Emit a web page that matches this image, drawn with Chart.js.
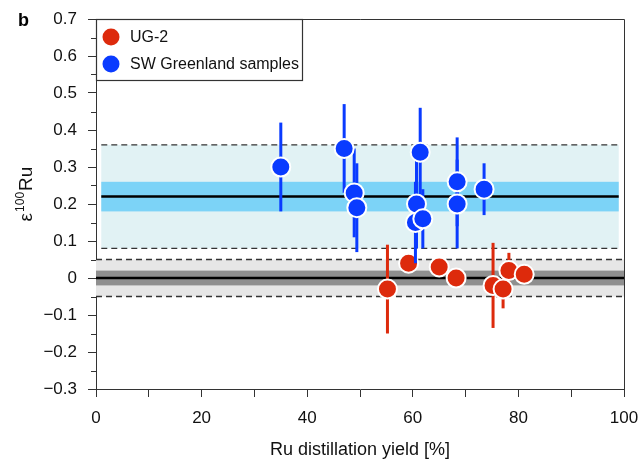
<!DOCTYPE html>
<html><head><meta charset="utf-8">
<script src="https://cdn.jsdelivr.net/npm/chart.js@4.4.0/dist/chart.umd.min.js"></script>
<style>html,body{margin:0;padding:0;background:#fff}</style>
</head><body>
<canvas id="c" width="639" height="467"></canvas>
<script>
// ---- data ----
const seriesNames = ['UG-2', 'SW Greenland samples'];
const ugYield = [55.2, 59.2, 65.0, 68.2, 75.2, 77.1, 78.2, 81.1];
const ugEps   = [-0.03, 0.04, 0.03, 0.00, -0.02, -0.03, 0.02, 0.01];
const ugErr   = [0.12, 0.02, 0.02, 0.02, 0.115, 0.052, 0.048, 0.02];
const sgYield = [35.0, 47.0, 48.9, 49.4, 61.4, 60.7, 60.5, 61.9, 68.4, 68.4, 73.5];
const sgEps   = [0.30, 0.35, 0.23, 0.19, 0.34, 0.20, 0.15, 0.16, 0.26, 0.20, 0.24];
const sgErr   = [0.12, 0.12, 0.12, 0.12, 0.12, 0.12, 0.11, 0.08, 0.12, 0.12, 0.07];
// reference bands: [mean, innerLow, innerHigh, outerLow, outerHigh, xFrom, xTo]
const ugBand = [0.00, -0.02, 0.02, -0.05, 0.05, 0, 100];
const sgBand = [0.22, 0.18, 0.26, 0.08, 0.36, 1, 99];
const xTicks = [0, 20, 40, 60, 80, 100];
const yTicks = [-0.3, -0.2, -0.1, 0, 0.1, 0.2, 0.3, 0.4, 0.5, 0.6, 0.7];
const panelLetter = 'b';
const xTitle = 'Ru distillation yield [%]';

const RED = '#dd2a0c', BLUE = '#0a3bff';
const FONT = '"Liberation Sans", Arial, Helvetica, sans-serif';
const AXC = '#333';

function fmtY(v) {
  const r = Math.round(v * 10) / 10;
  if (r === 0) return '0';
  return (r < 0 ? '\u2212' : '') + Math.abs(r).toFixed(1);
}

const errs = [ugErr, sgErr];

const decor = {
  id: 'decor',
  beforeDatasetsDraw(chart) {
    const { ctx, chartArea: a, scales: { x, y } } = chart;
    ctx.save();
    ctx.beginPath(); ctx.rect(a.left, a.top, a.right - a.left, a.bottom - a.top); ctx.clip();
    const drawBand = (b, light, mid) => {
      const x0 = x.getPixelForValue(b[5]), x1 = x.getPixelForValue(b[6]);
      ctx.fillStyle = light;
      ctx.fillRect(x0, y.getPixelForValue(b[4]), x1 - x0, y.getPixelForValue(b[3]) - y.getPixelForValue(b[4]));
      ctx.fillStyle = mid;
      ctx.fillRect(x0, y.getPixelForValue(b[2]), x1 - x0, y.getPixelForValue(b[1]) - y.getPixelForValue(b[2]));
      ctx.strokeStyle = '#333'; ctx.lineWidth = 1.3; ctx.setLineDash([6, 4]);
      [b[3], b[4]].forEach(v => { const py = y.getPixelForValue(v); ctx.beginPath(); ctx.moveTo(x0, py); ctx.lineTo(x1, py); ctx.stroke(); });
      ctx.setLineDash([]); ctx.strokeStyle = '#000'; ctx.lineWidth = 2.5;
      const pm = y.getPixelForValue(b[0]); ctx.beginPath(); ctx.moveTo(x0, pm); ctx.lineTo(x1, pm); ctx.stroke();
    };
    drawBand(sgBand, '#e1f2f4', '#7cd3f7');
    drawBand(ugBand, '#e6e6e6', '#8f8f8f');
    ctx.restore();
  },
  beforeDatasetDraw(chart, args) {
    const { ctx, scales: { x, y } } = chart;
    const ds = chart.data.datasets[args.index];
    const e = errs[args.index];
    ctx.save();
    ctx.strokeStyle = ds.backgroundColor; ctx.lineWidth = 3;
    ds.data.forEach((p, i) => {
      const px = x.getPixelForValue(p.x);
      ctx.beginPath();
      ctx.moveTo(px, y.getPixelForValue(p.y - e[i]));
      ctx.lineTo(px, y.getPixelForValue(p.y + e[i]));
      ctx.stroke();
    });
    ctx.restore();
  },
  afterDraw(chart) {
    const { ctx, chartArea: a, scales: { y } } = chart;
    ctx.save();
    // frame top/right
    ctx.strokeStyle = AXC; ctx.lineWidth = 1;
    ctx.beginPath();
    ctx.moveTo(a.left, a.top + 0.5); ctx.lineTo(a.right + 0.5, a.top + 0.5); ctx.lineTo(a.right + 0.5, a.bottom);
    ctx.stroke();
    // minor y ticks
    for (let k = 0; k < yTicks.length - 1; k++) {
      const v = (yTicks[k] + yTicks[k + 1]) / 2;
      const py = Math.round(y.getPixelForValue(v)) + 0.5;
      ctx.beginPath(); ctx.moveTo(a.left - 5, py); ctx.lineTo(a.left, py); ctx.stroke();
    }
    // legend
    const lx = a.left, ly = a.top, lw = 206, lh = 61;
    ctx.fillStyle = '#fff'; ctx.fillRect(lx, ly, lw, lh);
    ctx.strokeStyle = '#333'; ctx.lineWidth = 1.2; ctx.strokeRect(lx + 0.5, ly + 0.5, lw, lh);
    chart.data.datasets.slice().sort((p, q) => p.legendIndex - q.legendIndex).forEach((ds, i) => {
      const cy = ly + 18 + i * 27;
      ctx.fillStyle = ds.backgroundColor;
      ctx.beginPath(); ctx.arc(lx + 15, cy, 8.5, 0, Math.PI * 2); ctx.fill();
      ctx.fillStyle = '#111'; ctx.font = '16px ' + FONT; ctx.textBaseline = 'middle'; ctx.textAlign = 'left';
      ctx.fillText(ds.label, lx + 34, cy + 1);
    });
    // panel letter
    ctx.fillStyle = '#000'; ctx.font = 'bold 18px ' + FONT; ctx.textAlign = 'left'; ctx.textBaseline = 'alphabetic';
    ctx.fillText(panelLetter, 18, 26);
    // y title: epsilon^100 Ru
    ctx.translate(32, 194); ctx.rotate(-Math.PI / 2);
    const big = '19px ' + FONT, small = '12px ' + FONT;
    ctx.font = big; const w1 = ctx.measureText('\u03b5').width + 1, w3 = ctx.measureText('Ru').width;
    ctx.font = small; const w2 = ctx.measureText('100').width + 1;
    let sx = -(w1 + w2 + w3) / 2;
    ctx.fillStyle = '#111';
    ctx.font = big; ctx.fillText('\u03b5', sx, 0); sx += w1;
    ctx.font = small; ctx.fillText('100', sx, -8); sx += w2;
    ctx.font = big; ctx.fillText('Ru', sx, 0);
    ctx.restore();
  }
};

const mk = (xs, ys) => xs.map((v, i) => ({ x: v, y: ys[i] }));

new Chart(document.getElementById('c'), {
  type: 'scatter',
  data: {
    datasets: [
      { label: seriesNames[0], legendIndex: 0, order: 2, data: mk(ugYield, ugEps), backgroundColor: RED, borderColor: '#fff', borderWidth: 2, pointRadius: 9.5, pointHoverRadius: 9.5 },
      { label: seriesNames[1], legendIndex: 1, order: 1, data: mk(sgYield, sgEps), backgroundColor: BLUE, borderColor: '#fff', borderWidth: 2, pointRadius: 9.5, pointHoverRadius: 9.5 }
    ]
  },
  options: {
    responsive: false, devicePixelRatio: 1, animation: false,
    layout: { padding: { top: 19, right: 15, left: 0, bottom: 0 } },
    plugins: { legend: { display: false }, tooltip: { enabled: false } },
    scales: {
      x: {
        type: 'linear', min: 0, max: 100,
        afterFit: s => { s.height = 78; s.paddingLeft = 0; s.paddingRight = 0; },
        afterBuildTicks: s => { s.ticks = [0,10,20,30,40,50,60,70,80,90,100].map(v => ({ value: v })); },
        ticks: { autoSkip: false, maxRotation: 0, padding: 11, color: '#111', font: { family: FONT, size: 17 },
          callback: v => xTicks.includes(v) ? String(v) : '' },
        grid: { drawOnChartArea: false, drawTicks: true, tickLength: 8, tickColor: AXC, tickWidth: 1 },
        border: { color: AXC, width: 1 },
        title: { display: true, text: xTitle, color: '#111', font: { family: FONT, size: 18 }, padding: { top: 0, bottom: 6 } }
      },
      y: {
        type: 'linear', min: -0.3, max: 0.7,
        afterFit: s => { s.width = 96; s.paddingTop = 0; s.paddingBottom = 0; },
        afterBuildTicks: s => { s.ticks = yTicks.map(v => ({ value: v })); },
        ticks: { autoSkip: false, padding: 11, color: '#111', font: { family: FONT, size: 17 }, callback: v => fmtY(v) },
        grid: { drawOnChartArea: false, drawTicks: true, tickLength: 8, tickColor: AXC, tickWidth: 1 },
        border: { color: AXC, width: 1 }
      }
    }
  },
  plugins: [decor]
});
</script>
</body></html>
